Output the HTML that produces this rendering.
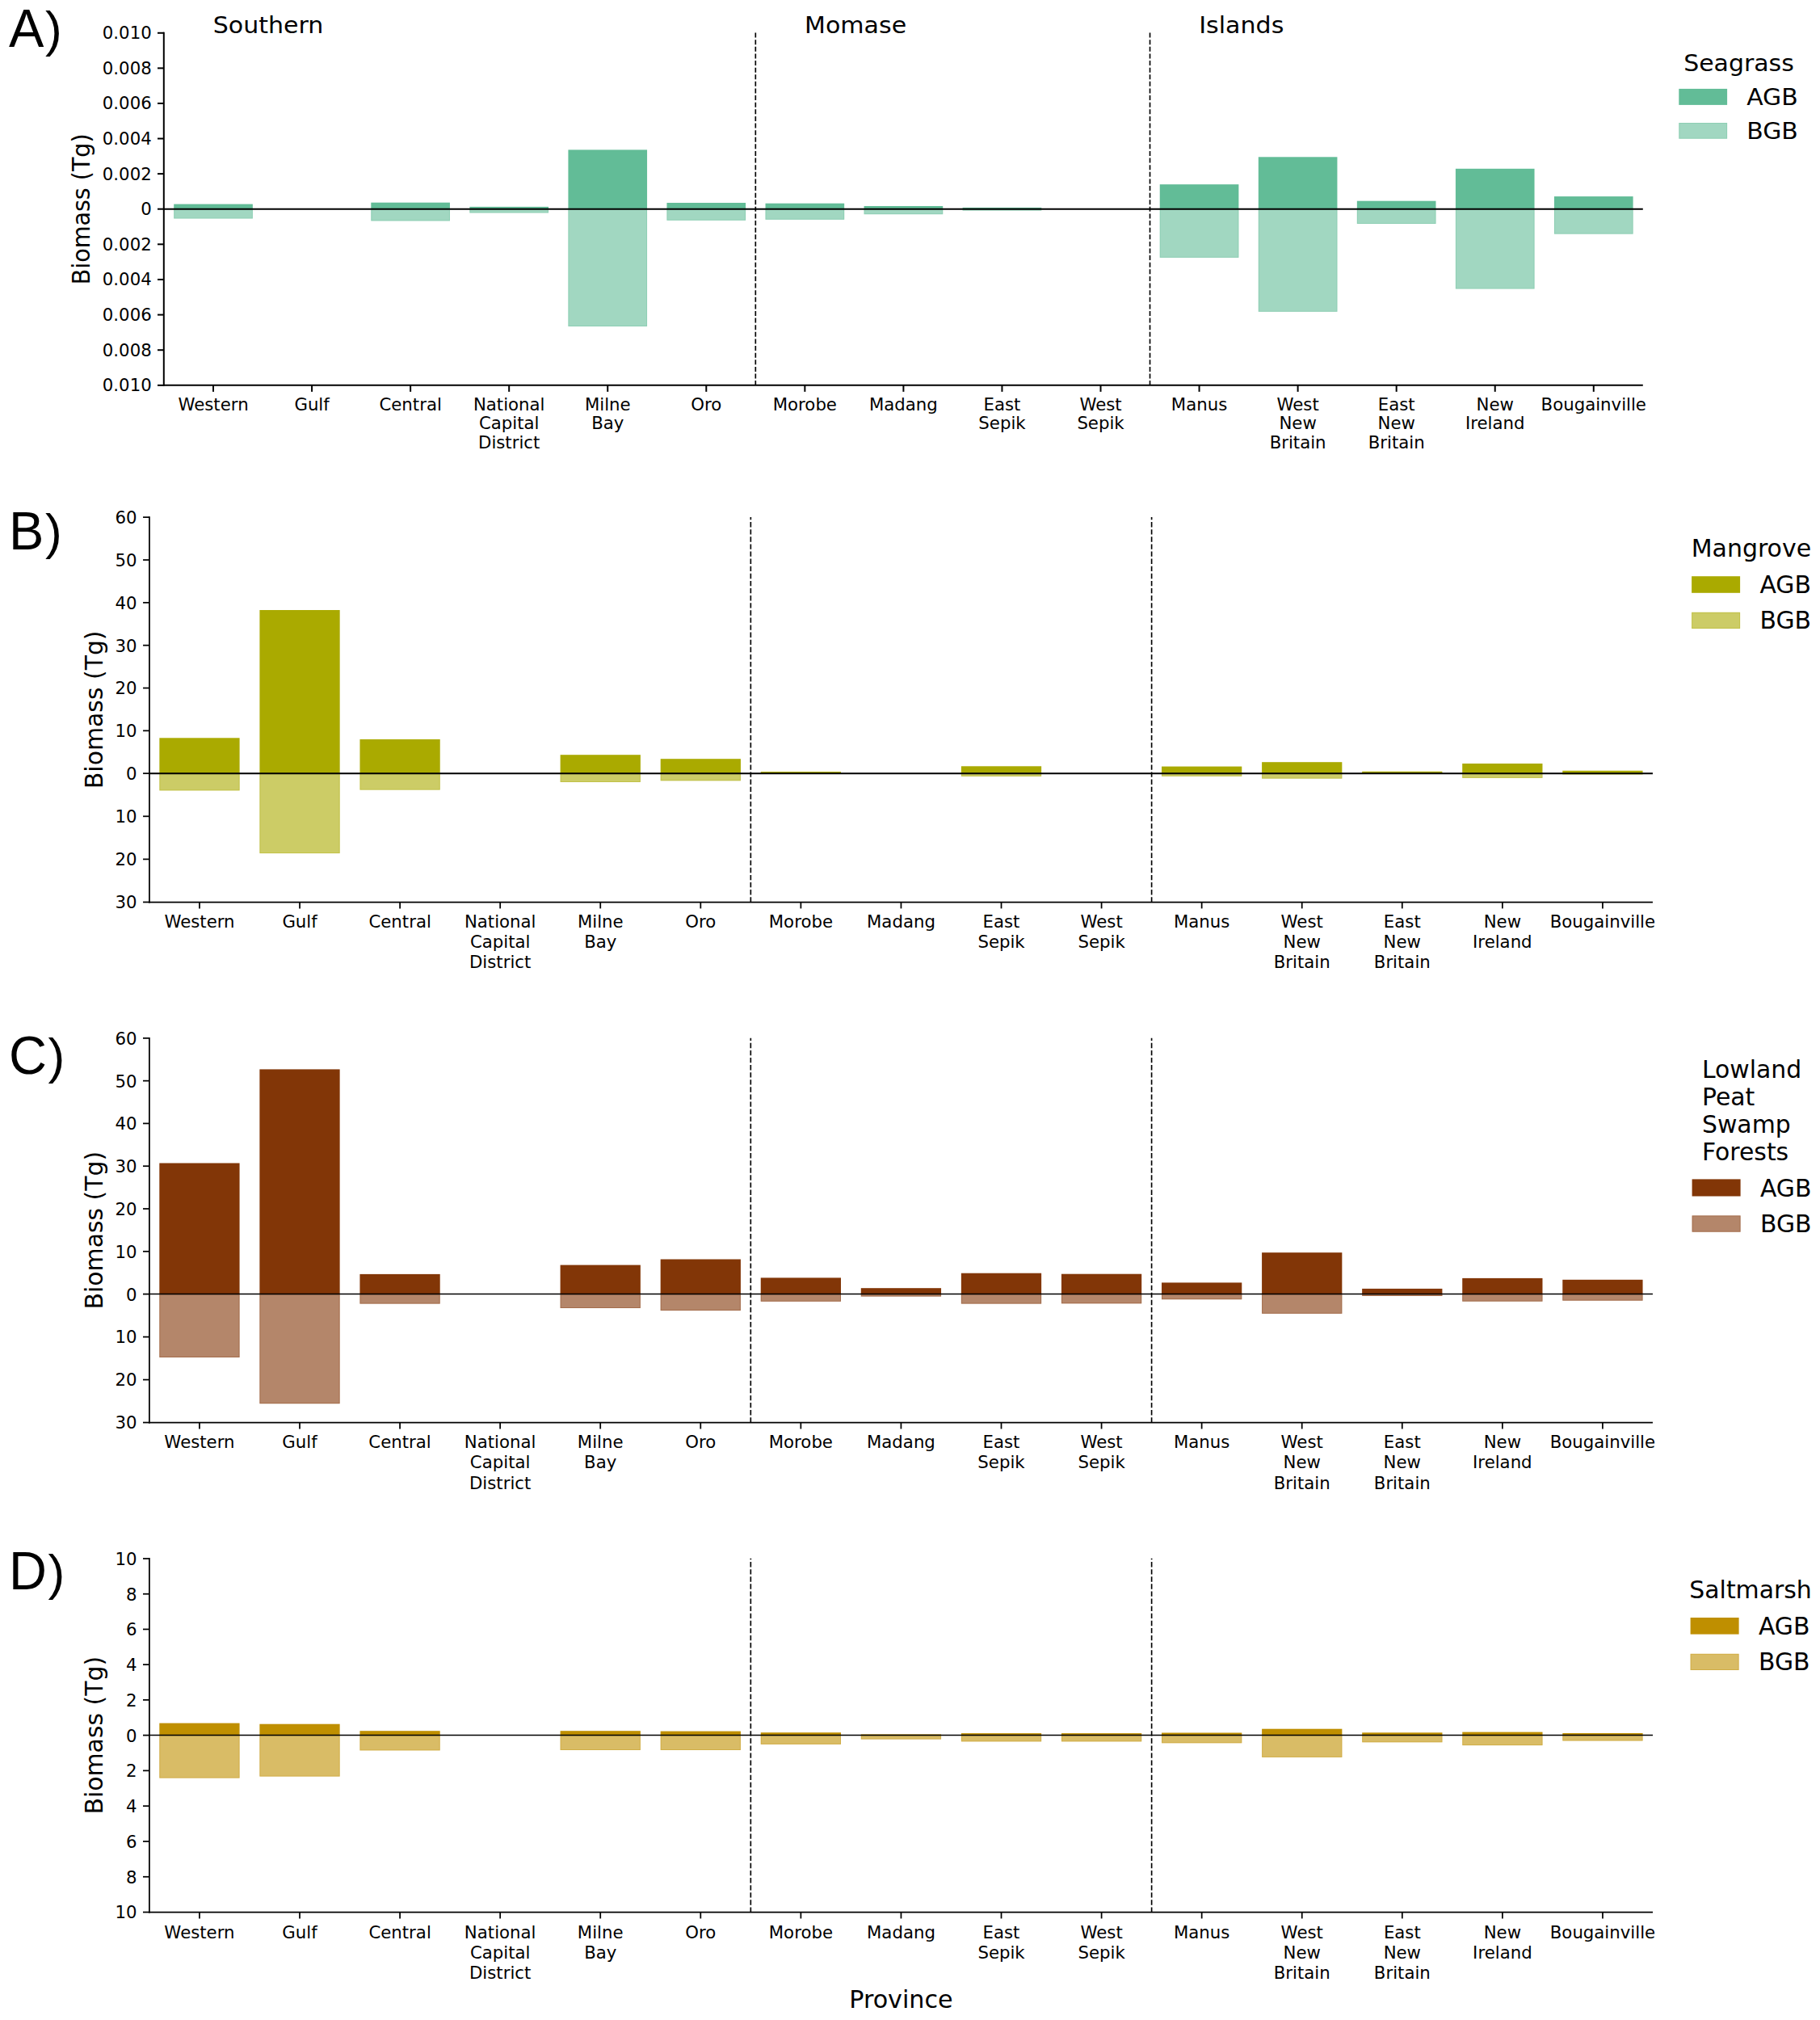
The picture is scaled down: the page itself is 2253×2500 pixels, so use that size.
<!DOCTYPE html>
<html lang="en"><head><meta charset="utf-8"><title>Biomass by province</title>
<style>
html,body{margin:0;padding:0;background:#fff}
body{width:2253px;height:2500px;overflow:hidden}
svg{display:block}
svg text{font-family:"DejaVu Sans","Liberation Sans",sans-serif;fill:#000}
svg text.pl{font-family:"Liberation Sans",Arial,Helvetica,sans-serif}
</style></head><body>
<svg width="2253" height="2500" viewBox="0 0 2253 2500">
<rect width="2253" height="2500" fill="#fff"/>
<rect x="215.21" y="258.70" width="97.64" height="11.80" fill="#a1d7c1"/>
<rect x="215.71" y="259.20" width="96.64" height="10.80" fill="none" stroke="#62bc97" stroke-opacity="0.3" stroke-width="1"/>
<rect x="215.21" y="252.60" width="97.64" height="6.10" fill="#62bc97"/>
<rect x="459.31" y="258.70" width="97.64" height="14.70" fill="#a1d7c1"/>
<rect x="459.81" y="259.20" width="96.64" height="13.70" fill="none" stroke="#62bc97" stroke-opacity="0.3" stroke-width="1"/>
<rect x="459.31" y="250.70" width="97.64" height="8.00" fill="#62bc97"/>
<rect x="581.37" y="258.70" width="97.64" height="4.80" fill="#a1d7c1"/>
<rect x="581.87" y="259.20" width="96.64" height="3.80" fill="none" stroke="#62bc97" stroke-opacity="0.3" stroke-width="1"/>
<rect x="581.37" y="255.90" width="97.64" height="2.80" fill="#62bc97"/>
<rect x="703.42" y="258.70" width="97.64" height="145.30" fill="#a1d7c1"/>
<rect x="703.92" y="259.20" width="96.64" height="144.30" fill="none" stroke="#62bc97" stroke-opacity="0.3" stroke-width="1"/>
<rect x="703.42" y="185.40" width="97.64" height="73.30" fill="#62bc97"/>
<rect x="825.47" y="258.70" width="97.64" height="14.10" fill="#a1d7c1"/>
<rect x="825.97" y="259.20" width="96.64" height="13.10" fill="none" stroke="#62bc97" stroke-opacity="0.3" stroke-width="1"/>
<rect x="825.47" y="251.00" width="97.64" height="7.70" fill="#62bc97"/>
<rect x="947.53" y="258.70" width="97.64" height="13.10" fill="#a1d7c1"/>
<rect x="948.03" y="259.20" width="96.64" height="12.10" fill="none" stroke="#62bc97" stroke-opacity="0.3" stroke-width="1"/>
<rect x="947.53" y="251.70" width="97.64" height="7.00" fill="#62bc97"/>
<rect x="1069.58" y="258.70" width="97.64" height="6.50" fill="#a1d7c1"/>
<rect x="1070.08" y="259.20" width="96.64" height="5.50" fill="none" stroke="#62bc97" stroke-opacity="0.3" stroke-width="1"/>
<rect x="1069.58" y="255.00" width="97.64" height="3.70" fill="#62bc97"/>
<rect x="1191.63" y="258.70" width="97.64" height="1.90" fill="#a1d7c1"/>
<rect x="1192.13" y="259.20" width="96.64" height="0.90" fill="none" stroke="#62bc97" stroke-opacity="0.3" stroke-width="1"/>
<rect x="1191.63" y="256.90" width="97.64" height="1.80" fill="#62bc97"/>
<rect x="1435.74" y="258.70" width="97.64" height="60.20" fill="#a1d7c1"/>
<rect x="1436.24" y="259.20" width="96.64" height="59.20" fill="none" stroke="#62bc97" stroke-opacity="0.3" stroke-width="1"/>
<rect x="1435.74" y="228.20" width="97.64" height="30.50" fill="#62bc97"/>
<rect x="1557.79" y="258.70" width="97.64" height="127.10" fill="#a1d7c1"/>
<rect x="1558.29" y="259.20" width="96.64" height="126.10" fill="none" stroke="#62bc97" stroke-opacity="0.3" stroke-width="1"/>
<rect x="1557.79" y="194.30" width="97.64" height="64.40" fill="#62bc97"/>
<rect x="1679.85" y="258.70" width="97.64" height="18.30" fill="#a1d7c1"/>
<rect x="1680.35" y="259.20" width="96.64" height="17.30" fill="none" stroke="#62bc97" stroke-opacity="0.3" stroke-width="1"/>
<rect x="1679.85" y="248.70" width="97.64" height="10.00" fill="#62bc97"/>
<rect x="1801.90" y="258.70" width="97.64" height="98.80" fill="#a1d7c1"/>
<rect x="1802.40" y="259.20" width="96.64" height="97.80" fill="none" stroke="#62bc97" stroke-opacity="0.3" stroke-width="1"/>
<rect x="1801.90" y="208.80" width="97.64" height="49.90" fill="#62bc97"/>
<rect x="1923.95" y="258.70" width="97.64" height="30.90" fill="#a1d7c1"/>
<rect x="1924.45" y="259.20" width="96.64" height="29.90" fill="none" stroke="#62bc97" stroke-opacity="0.3" stroke-width="1"/>
<rect x="1923.95" y="243.10" width="97.64" height="15.60" fill="#62bc97"/>
<line x1="935.32" y1="40.60" x2="935.32" y2="476.85" stroke="#000" stroke-width="1.65" stroke-dasharray="6.0 2.61" stroke-dashoffset="0"/>
<line x1="1423.53" y1="40.60" x2="1423.53" y2="476.85" stroke="#000" stroke-width="1.65" stroke-dasharray="6.0 2.61" stroke-dashoffset="0"/>
<line x1="203.00" y1="258.70" x2="2033.80" y2="258.70" stroke="#000" stroke-width="2.10"/>
<line x1="202.80" y1="39.80" x2="202.80" y2="477.85" stroke="#000" stroke-width="2.00"/>
<line x1="202.00" y1="476.85" x2="2033.80" y2="476.85" stroke="#000" stroke-width="2.00"/>
<line x1="195.00" y1="40.80" x2="203.00" y2="40.80" stroke="#000" stroke-width="2.00"/>
<text transform="translate(187.70,48.27) scale(0.9850,0.9450)" font-size="21.60" text-anchor="end">0.010</text>
<line x1="195.00" y1="84.38" x2="203.00" y2="84.38" stroke="#000" stroke-width="2.00"/>
<text transform="translate(187.70,91.85) scale(0.9850,0.9450)" font-size="21.60" text-anchor="end">0.008</text>
<line x1="195.00" y1="127.96" x2="203.00" y2="127.96" stroke="#000" stroke-width="2.00"/>
<text transform="translate(187.70,135.43) scale(0.9850,0.9450)" font-size="21.60" text-anchor="end">0.006</text>
<line x1="195.00" y1="171.54" x2="203.00" y2="171.54" stroke="#000" stroke-width="2.00"/>
<text transform="translate(187.70,179.01) scale(0.9850,0.9450)" font-size="21.60" text-anchor="end">0.004</text>
<line x1="195.00" y1="215.12" x2="203.00" y2="215.12" stroke="#000" stroke-width="2.00"/>
<text transform="translate(187.70,222.59) scale(0.9850,0.9450)" font-size="21.60" text-anchor="end">0.002</text>
<line x1="195.00" y1="258.70" x2="203.00" y2="258.70" stroke="#000" stroke-width="2.00"/>
<text transform="translate(187.70,266.17) scale(0.9850,0.9450)" font-size="21.60" text-anchor="end">0</text>
<line x1="195.00" y1="302.33" x2="203.00" y2="302.33" stroke="#000" stroke-width="2.00"/>
<text transform="translate(187.70,309.80) scale(0.9850,0.9450)" font-size="21.60" text-anchor="end">0.002</text>
<line x1="195.00" y1="345.96" x2="203.00" y2="345.96" stroke="#000" stroke-width="2.00"/>
<text transform="translate(187.70,353.43) scale(0.9850,0.9450)" font-size="21.60" text-anchor="end">0.004</text>
<line x1="195.00" y1="389.59" x2="203.00" y2="389.59" stroke="#000" stroke-width="2.00"/>
<text transform="translate(187.70,397.06) scale(0.9850,0.9450)" font-size="21.60" text-anchor="end">0.006</text>
<line x1="195.00" y1="433.22" x2="203.00" y2="433.22" stroke="#000" stroke-width="2.00"/>
<text transform="translate(187.70,440.69) scale(0.9850,0.9450)" font-size="21.60" text-anchor="end">0.008</text>
<line x1="195.00" y1="476.85" x2="203.00" y2="476.85" stroke="#000" stroke-width="2.00"/>
<text transform="translate(187.70,484.32) scale(0.9850,0.9450)" font-size="21.60" text-anchor="end">0.010</text>
<line x1="264.03" y1="476.85" x2="264.03" y2="484.85" stroke="#000" stroke-width="2.00"/>
<text transform="translate(264.03,507.70) scale(0.9850,0.9450)" font-size="21.60" text-anchor="middle">Western</text>
<line x1="386.08" y1="476.85" x2="386.08" y2="484.85" stroke="#000" stroke-width="2.00"/>
<text transform="translate(386.08,507.70) scale(0.9850,0.9450)" font-size="21.60" text-anchor="middle">Gulf</text>
<line x1="508.13" y1="476.85" x2="508.13" y2="484.85" stroke="#000" stroke-width="2.00"/>
<text transform="translate(508.13,507.70) scale(0.9850,0.9450)" font-size="21.60" text-anchor="middle">Central</text>
<line x1="630.19" y1="476.85" x2="630.19" y2="484.85" stroke="#000" stroke-width="2.00"/>
<text transform="translate(630.19,507.70) scale(0.9850,0.9450)" font-size="21.60" text-anchor="middle">National</text>
<text transform="translate(630.19,531.20) scale(0.9850,0.9450)" font-size="21.60" text-anchor="middle">Capital</text>
<text transform="translate(630.19,554.70) scale(0.9850,0.9450)" font-size="21.60" text-anchor="middle">District</text>
<line x1="752.24" y1="476.85" x2="752.24" y2="484.85" stroke="#000" stroke-width="2.00"/>
<text transform="translate(752.24,507.70) scale(0.9850,0.9450)" font-size="21.60" text-anchor="middle">Milne</text>
<text transform="translate(752.24,531.20) scale(0.9850,0.9450)" font-size="21.60" text-anchor="middle">Bay</text>
<line x1="874.29" y1="476.85" x2="874.29" y2="484.85" stroke="#000" stroke-width="2.00"/>
<text transform="translate(874.29,507.70) scale(0.9850,0.9450)" font-size="21.60" text-anchor="middle">Oro</text>
<line x1="996.35" y1="476.85" x2="996.35" y2="484.85" stroke="#000" stroke-width="2.00"/>
<text transform="translate(996.35,507.70) scale(0.9850,0.9450)" font-size="21.60" text-anchor="middle">Morobe</text>
<line x1="1118.40" y1="476.85" x2="1118.40" y2="484.85" stroke="#000" stroke-width="2.00"/>
<text transform="translate(1118.40,507.70) scale(0.9850,0.9450)" font-size="21.60" text-anchor="middle">Madang</text>
<line x1="1240.45" y1="476.85" x2="1240.45" y2="484.85" stroke="#000" stroke-width="2.00"/>
<text transform="translate(1240.45,507.70) scale(0.9850,0.9450)" font-size="21.60" text-anchor="middle">East</text>
<text transform="translate(1240.45,531.20) scale(0.9850,0.9450)" font-size="21.60" text-anchor="middle">Sepik</text>
<line x1="1362.51" y1="476.85" x2="1362.51" y2="484.85" stroke="#000" stroke-width="2.00"/>
<text transform="translate(1362.51,507.70) scale(0.9850,0.9450)" font-size="21.60" text-anchor="middle">West</text>
<text transform="translate(1362.51,531.20) scale(0.9850,0.9450)" font-size="21.60" text-anchor="middle">Sepik</text>
<line x1="1484.56" y1="476.85" x2="1484.56" y2="484.85" stroke="#000" stroke-width="2.00"/>
<text transform="translate(1484.56,507.70) scale(0.9850,0.9450)" font-size="21.60" text-anchor="middle">Manus</text>
<line x1="1606.61" y1="476.85" x2="1606.61" y2="484.85" stroke="#000" stroke-width="2.00"/>
<text transform="translate(1606.61,507.70) scale(0.9850,0.9450)" font-size="21.60" text-anchor="middle">West</text>
<text transform="translate(1606.61,531.20) scale(0.9850,0.9450)" font-size="21.60" text-anchor="middle">New</text>
<text transform="translate(1606.61,554.70) scale(0.9850,0.9450)" font-size="21.60" text-anchor="middle">Britain</text>
<line x1="1728.67" y1="476.85" x2="1728.67" y2="484.85" stroke="#000" stroke-width="2.00"/>
<text transform="translate(1728.67,507.70) scale(0.9850,0.9450)" font-size="21.60" text-anchor="middle">East</text>
<text transform="translate(1728.67,531.20) scale(0.9850,0.9450)" font-size="21.60" text-anchor="middle">New</text>
<text transform="translate(1728.67,554.70) scale(0.9850,0.9450)" font-size="21.60" text-anchor="middle">Britain</text>
<line x1="1850.72" y1="476.85" x2="1850.72" y2="484.85" stroke="#000" stroke-width="2.00"/>
<text transform="translate(1850.72,507.70) scale(0.9850,0.9450)" font-size="21.60" text-anchor="middle">New</text>
<text transform="translate(1850.72,531.20) scale(0.9850,0.9450)" font-size="21.60" text-anchor="middle">Ireland</text>
<line x1="1972.77" y1="476.85" x2="1972.77" y2="484.85" stroke="#000" stroke-width="2.00"/>
<text transform="translate(1972.77,507.70) scale(0.9850,0.9450)" font-size="21.60" text-anchor="middle">Bougainville</text>
<text transform="translate(111.10,258.82) scale(1.0000,0.9450) rotate(-90)" font-size="30.20" text-anchor="middle">Biomass (Tg)</text>
<text transform="translate(11.00,57.90) scale(1,1.02)" font-size="65.0" class="pl">A</text>
<text transform="translate(56.00,57.30) scale(0.96,0.95)" font-size="65.0" class="pl">)</text>
<text transform="translate(2084.20,87.90) scale(0.9910,0.9450)" font-size="30.20" text-anchor="start">Seagrass</text>
<rect x="2078.30" y="109.90" width="59.80" height="20.00" fill="#62bc97"/>
<text transform="translate(2162.20,129.90) scale(0.9880,0.9450)" font-size="30.20" text-anchor="start">AGB</text>
<rect x="2078.30" y="152.00" width="59.80" height="19.70" fill="#a1d7c1"/>
<rect x="2078.80" y="152.50" width="58.80" height="18.70" fill="none" stroke="#62bc97" stroke-opacity="0.3" stroke-width="1"/>
<text transform="translate(2162.20,172.40) scale(0.9880,0.9450)" font-size="30.20" text-anchor="start">BGB</text>
<rect x="197.36" y="957.20" width="99.25" height="21.20" fill="#cccc66"/>
<rect x="197.86" y="957.70" width="98.25" height="20.20" fill="none" stroke="#aaaa00" stroke-opacity="0.3" stroke-width="1"/>
<rect x="197.36" y="913.30" width="99.25" height="43.90" fill="#aaaa00"/>
<rect x="321.42" y="957.20" width="99.25" height="98.90" fill="#cccc66"/>
<rect x="321.92" y="957.70" width="98.25" height="97.90" fill="none" stroke="#aaaa00" stroke-opacity="0.3" stroke-width="1"/>
<rect x="321.42" y="755.00" width="99.25" height="202.20" fill="#aaaa00"/>
<rect x="445.49" y="957.20" width="99.25" height="20.40" fill="#cccc66"/>
<rect x="445.99" y="957.70" width="98.25" height="19.40" fill="none" stroke="#aaaa00" stroke-opacity="0.3" stroke-width="1"/>
<rect x="445.49" y="915.00" width="99.25" height="42.20" fill="#aaaa00"/>
<rect x="693.62" y="957.20" width="99.25" height="10.80" fill="#cccc66"/>
<rect x="694.12" y="957.70" width="98.25" height="9.80" fill="none" stroke="#aaaa00" stroke-opacity="0.3" stroke-width="1"/>
<rect x="693.62" y="934.20" width="99.25" height="23.00" fill="#aaaa00"/>
<rect x="817.69" y="957.20" width="99.25" height="9.10" fill="#cccc66"/>
<rect x="818.19" y="957.70" width="98.25" height="8.10" fill="none" stroke="#aaaa00" stroke-opacity="0.3" stroke-width="1"/>
<rect x="817.69" y="939.20" width="99.25" height="18.00" fill="#aaaa00"/>
<rect x="941.76" y="957.20" width="99.25" height="0.70" fill="#cccc66"/>
<rect x="941.76" y="955.10" width="99.25" height="2.10" fill="#aaaa00"/>
<rect x="1189.89" y="957.20" width="99.25" height="3.70" fill="#cccc66"/>
<rect x="1190.39" y="957.70" width="98.25" height="2.70" fill="none" stroke="#aaaa00" stroke-opacity="0.3" stroke-width="1"/>
<rect x="1189.89" y="948.30" width="99.25" height="8.90" fill="#aaaa00"/>
<rect x="1438.02" y="957.20" width="99.25" height="3.60" fill="#cccc66"/>
<rect x="1438.52" y="957.70" width="98.25" height="2.60" fill="none" stroke="#aaaa00" stroke-opacity="0.3" stroke-width="1"/>
<rect x="1438.02" y="948.60" width="99.25" height="8.60" fill="#aaaa00"/>
<rect x="1562.09" y="957.20" width="99.25" height="6.40" fill="#cccc66"/>
<rect x="1562.59" y="957.70" width="98.25" height="5.40" fill="none" stroke="#aaaa00" stroke-opacity="0.3" stroke-width="1"/>
<rect x="1562.09" y="943.20" width="99.25" height="14.00" fill="#aaaa00"/>
<rect x="1686.16" y="957.20" width="99.25" height="0.60" fill="#cccc66"/>
<rect x="1686.16" y="954.80" width="99.25" height="2.40" fill="#aaaa00"/>
<rect x="1810.22" y="957.20" width="99.25" height="5.70" fill="#cccc66"/>
<rect x="1810.72" y="957.70" width="98.25" height="4.70" fill="none" stroke="#aaaa00" stroke-opacity="0.3" stroke-width="1"/>
<rect x="1810.22" y="945.00" width="99.25" height="12.20" fill="#aaaa00"/>
<rect x="1934.29" y="957.20" width="99.25" height="1.30" fill="#cccc66"/>
<rect x="1934.79" y="957.70" width="98.25" height="0.30" fill="none" stroke="#aaaa00" stroke-opacity="0.3" stroke-width="1"/>
<rect x="1934.29" y="953.80" width="99.25" height="3.40" fill="#aaaa00"/>
<line x1="929.35" y1="639.90" x2="929.35" y2="1116.50" stroke="#000" stroke-width="1.65" stroke-dasharray="6.35 2.75" stroke-dashoffset="2.9"/>
<line x1="1425.62" y1="639.90" x2="1425.62" y2="1116.50" stroke="#000" stroke-width="1.65" stroke-dasharray="6.35 2.75" stroke-dashoffset="2.9"/>
<line x1="184.95" y1="957.20" x2="2045.95" y2="957.20" stroke="#000" stroke-width="2.10"/>
<line x1="184.95" y1="639.27" x2="184.95" y2="1117.38" stroke="#000" stroke-width="1.75"/>
<line x1="184.07" y1="1116.50" x2="2045.95" y2="1116.50" stroke="#000" stroke-width="1.75"/>
<line x1="177.05" y1="640.15" x2="184.95" y2="640.15" stroke="#000" stroke-width="1.75"/>
<text transform="translate(169.65,648.05) scale(0.9850,1.0000)" font-size="21.60" text-anchor="end">60</text>
<line x1="177.05" y1="692.99" x2="184.95" y2="692.99" stroke="#000" stroke-width="1.75"/>
<text transform="translate(169.65,700.89) scale(0.9850,1.0000)" font-size="21.60" text-anchor="end">50</text>
<line x1="177.05" y1="745.83" x2="184.95" y2="745.83" stroke="#000" stroke-width="1.75"/>
<text transform="translate(169.65,753.73) scale(0.9850,1.0000)" font-size="21.60" text-anchor="end">40</text>
<line x1="177.05" y1="798.67" x2="184.95" y2="798.67" stroke="#000" stroke-width="1.75"/>
<text transform="translate(169.65,806.57) scale(0.9850,1.0000)" font-size="21.60" text-anchor="end">30</text>
<line x1="177.05" y1="851.52" x2="184.95" y2="851.52" stroke="#000" stroke-width="1.75"/>
<text transform="translate(169.65,859.42) scale(0.9850,1.0000)" font-size="21.60" text-anchor="end">20</text>
<line x1="177.05" y1="904.36" x2="184.95" y2="904.36" stroke="#000" stroke-width="1.75"/>
<text transform="translate(169.65,912.26) scale(0.9850,1.0000)" font-size="21.60" text-anchor="end">10</text>
<line x1="177.05" y1="957.20" x2="184.95" y2="957.20" stroke="#000" stroke-width="1.75"/>
<text transform="translate(169.65,965.10) scale(0.9850,1.0000)" font-size="21.60" text-anchor="end">0</text>
<line x1="177.05" y1="1010.30" x2="184.95" y2="1010.30" stroke="#000" stroke-width="1.75"/>
<text transform="translate(169.65,1018.20) scale(0.9850,1.0000)" font-size="21.60" text-anchor="end">10</text>
<line x1="177.05" y1="1063.40" x2="184.95" y2="1063.40" stroke="#000" stroke-width="1.75"/>
<text transform="translate(169.65,1071.30) scale(0.9850,1.0000)" font-size="21.60" text-anchor="end">20</text>
<line x1="177.05" y1="1116.50" x2="184.95" y2="1116.50" stroke="#000" stroke-width="1.75"/>
<text transform="translate(169.65,1124.40) scale(0.9850,1.0000)" font-size="21.60" text-anchor="end">30</text>
<line x1="246.98" y1="1116.50" x2="246.98" y2="1124.40" stroke="#000" stroke-width="1.75"/>
<text transform="translate(246.98,1147.80) scale(0.9850,1.0000)" font-size="21.60" text-anchor="middle">Western</text>
<line x1="371.05" y1="1116.50" x2="371.05" y2="1124.40" stroke="#000" stroke-width="1.75"/>
<text transform="translate(371.05,1147.80) scale(0.9850,1.0000)" font-size="21.60" text-anchor="middle">Gulf</text>
<line x1="495.12" y1="1116.50" x2="495.12" y2="1124.40" stroke="#000" stroke-width="1.75"/>
<text transform="translate(495.12,1147.80) scale(0.9850,1.0000)" font-size="21.60" text-anchor="middle">Central</text>
<line x1="619.18" y1="1116.50" x2="619.18" y2="1124.40" stroke="#000" stroke-width="1.75"/>
<text transform="translate(619.18,1147.80) scale(0.9850,1.0000)" font-size="21.60" text-anchor="middle">National</text>
<text transform="translate(619.18,1173.10) scale(0.9850,1.0000)" font-size="21.60" text-anchor="middle">Capital</text>
<text transform="translate(619.18,1198.40) scale(0.9850,1.0000)" font-size="21.60" text-anchor="middle">District</text>
<line x1="743.25" y1="1116.50" x2="743.25" y2="1124.40" stroke="#000" stroke-width="1.75"/>
<text transform="translate(743.25,1147.80) scale(0.9850,1.0000)" font-size="21.60" text-anchor="middle">Milne</text>
<text transform="translate(743.25,1173.10) scale(0.9850,1.0000)" font-size="21.60" text-anchor="middle">Bay</text>
<line x1="867.32" y1="1116.50" x2="867.32" y2="1124.40" stroke="#000" stroke-width="1.75"/>
<text transform="translate(867.32,1147.80) scale(0.9850,1.0000)" font-size="21.60" text-anchor="middle">Oro</text>
<line x1="991.38" y1="1116.50" x2="991.38" y2="1124.40" stroke="#000" stroke-width="1.75"/>
<text transform="translate(991.38,1147.80) scale(0.9850,1.0000)" font-size="21.60" text-anchor="middle">Morobe</text>
<line x1="1115.45" y1="1116.50" x2="1115.45" y2="1124.40" stroke="#000" stroke-width="1.75"/>
<text transform="translate(1115.45,1147.80) scale(0.9850,1.0000)" font-size="21.60" text-anchor="middle">Madang</text>
<line x1="1239.52" y1="1116.50" x2="1239.52" y2="1124.40" stroke="#000" stroke-width="1.75"/>
<text transform="translate(1239.52,1147.80) scale(0.9850,1.0000)" font-size="21.60" text-anchor="middle">East</text>
<text transform="translate(1239.52,1173.10) scale(0.9850,1.0000)" font-size="21.60" text-anchor="middle">Sepik</text>
<line x1="1363.58" y1="1116.50" x2="1363.58" y2="1124.40" stroke="#000" stroke-width="1.75"/>
<text transform="translate(1363.58,1147.80) scale(0.9850,1.0000)" font-size="21.60" text-anchor="middle">West</text>
<text transform="translate(1363.58,1173.10) scale(0.9850,1.0000)" font-size="21.60" text-anchor="middle">Sepik</text>
<line x1="1487.65" y1="1116.50" x2="1487.65" y2="1124.40" stroke="#000" stroke-width="1.75"/>
<text transform="translate(1487.65,1147.80) scale(0.9850,1.0000)" font-size="21.60" text-anchor="middle">Manus</text>
<line x1="1611.72" y1="1116.50" x2="1611.72" y2="1124.40" stroke="#000" stroke-width="1.75"/>
<text transform="translate(1611.72,1147.80) scale(0.9850,1.0000)" font-size="21.60" text-anchor="middle">West</text>
<text transform="translate(1611.72,1173.10) scale(0.9850,1.0000)" font-size="21.60" text-anchor="middle">New</text>
<text transform="translate(1611.72,1198.40) scale(0.9850,1.0000)" font-size="21.60" text-anchor="middle">Britain</text>
<line x1="1735.78" y1="1116.50" x2="1735.78" y2="1124.40" stroke="#000" stroke-width="1.75"/>
<text transform="translate(1735.78,1147.80) scale(0.9850,1.0000)" font-size="21.60" text-anchor="middle">East</text>
<text transform="translate(1735.78,1173.10) scale(0.9850,1.0000)" font-size="21.60" text-anchor="middle">New</text>
<text transform="translate(1735.78,1198.40) scale(0.9850,1.0000)" font-size="21.60" text-anchor="middle">Britain</text>
<line x1="1859.85" y1="1116.50" x2="1859.85" y2="1124.40" stroke="#000" stroke-width="1.75"/>
<text transform="translate(1859.85,1147.80) scale(0.9850,1.0000)" font-size="21.60" text-anchor="middle">New</text>
<text transform="translate(1859.85,1173.10) scale(0.9850,1.0000)" font-size="21.60" text-anchor="middle">Ireland</text>
<line x1="1983.92" y1="1116.50" x2="1983.92" y2="1124.40" stroke="#000" stroke-width="1.75"/>
<text transform="translate(1983.92,1147.80) scale(0.9850,1.0000)" font-size="21.60" text-anchor="middle">Bougainville</text>
<text transform="translate(127.10,878.33) scale(1.0000,0.9900) rotate(-90)" font-size="30.20" text-anchor="middle">Biomass (Tg)</text>
<text transform="translate(11.00,679.90) scale(1,1.02)" font-size="65.0" class="pl">B</text>
<text transform="translate(56.00,679.30) scale(0.96,0.95)" font-size="65.0" class="pl">)</text>
<text transform="translate(2093.70,689.30) scale(0.9930,1.0000)" font-size="30.20" text-anchor="start">Mangrove</text>
<rect x="2094.10" y="713.20" width="60.00" height="20.60" fill="#aaaa00"/>
<text transform="translate(2178.50,733.80) scale(0.9880,1.0000)" font-size="30.20" text-anchor="start">AGB</text>
<rect x="2094.10" y="757.80" width="60.00" height="20.20" fill="#cccc66"/>
<rect x="2094.60" y="758.30" width="59.00" height="19.20" fill="none" stroke="#aaaa00" stroke-opacity="0.3" stroke-width="1"/>
<text transform="translate(2178.50,778.00) scale(0.9880,1.0000)" font-size="30.20" text-anchor="start">BGB</text>
<rect x="197.31" y="1601.60" width="99.26" height="78.40" fill="#b4866a"/>
<rect x="197.81" y="1602.10" width="98.26" height="77.40" fill="none" stroke="#823607" stroke-opacity="0.3" stroke-width="1"/>
<rect x="197.31" y="1439.50" width="99.26" height="162.10" fill="#823607"/>
<rect x="321.38" y="1601.60" width="99.26" height="135.60" fill="#b4866a"/>
<rect x="321.88" y="1602.10" width="98.26" height="134.60" fill="none" stroke="#823607" stroke-opacity="0.3" stroke-width="1"/>
<rect x="321.38" y="1323.40" width="99.26" height="278.20" fill="#823607"/>
<rect x="445.45" y="1601.60" width="99.26" height="12.00" fill="#b4866a"/>
<rect x="445.95" y="1602.10" width="98.26" height="11.00" fill="none" stroke="#823607" stroke-opacity="0.3" stroke-width="1"/>
<rect x="445.45" y="1576.90" width="99.26" height="24.70" fill="#823607"/>
<rect x="693.59" y="1601.60" width="99.26" height="17.40" fill="#b4866a"/>
<rect x="694.09" y="1602.10" width="98.26" height="16.40" fill="none" stroke="#823607" stroke-opacity="0.3" stroke-width="1"/>
<rect x="693.59" y="1565.60" width="99.26" height="36.00" fill="#823607"/>
<rect x="817.66" y="1601.60" width="99.26" height="20.40" fill="#b4866a"/>
<rect x="818.16" y="1602.10" width="98.26" height="19.40" fill="none" stroke="#823607" stroke-opacity="0.3" stroke-width="1"/>
<rect x="817.66" y="1558.50" width="99.26" height="43.10" fill="#823607"/>
<rect x="941.73" y="1601.60" width="99.26" height="9.20" fill="#b4866a"/>
<rect x="942.23" y="1602.10" width="98.26" height="8.20" fill="none" stroke="#823607" stroke-opacity="0.3" stroke-width="1"/>
<rect x="941.73" y="1581.40" width="99.26" height="20.20" fill="#823607"/>
<rect x="1065.80" y="1601.60" width="99.26" height="3.00" fill="#b4866a"/>
<rect x="1066.30" y="1602.10" width="98.26" height="2.00" fill="none" stroke="#823607" stroke-opacity="0.3" stroke-width="1"/>
<rect x="1065.80" y="1594.20" width="99.26" height="7.40" fill="#823607"/>
<rect x="1189.87" y="1601.60" width="99.26" height="12.00" fill="#b4866a"/>
<rect x="1190.37" y="1602.10" width="98.26" height="11.00" fill="none" stroke="#823607" stroke-opacity="0.3" stroke-width="1"/>
<rect x="1189.87" y="1575.70" width="99.26" height="25.90" fill="#823607"/>
<rect x="1313.94" y="1601.60" width="99.26" height="11.70" fill="#b4866a"/>
<rect x="1314.44" y="1602.10" width="98.26" height="10.70" fill="none" stroke="#823607" stroke-opacity="0.3" stroke-width="1"/>
<rect x="1313.94" y="1576.70" width="99.26" height="24.90" fill="#823607"/>
<rect x="1438.01" y="1601.60" width="99.26" height="6.60" fill="#b4866a"/>
<rect x="1438.51" y="1602.10" width="98.26" height="5.60" fill="none" stroke="#823607" stroke-opacity="0.3" stroke-width="1"/>
<rect x="1438.01" y="1587.40" width="99.26" height="14.20" fill="#823607"/>
<rect x="1562.08" y="1601.60" width="99.26" height="24.20" fill="#b4866a"/>
<rect x="1562.58" y="1602.10" width="98.26" height="23.20" fill="none" stroke="#823607" stroke-opacity="0.3" stroke-width="1"/>
<rect x="1562.08" y="1550.20" width="99.26" height="51.40" fill="#823607"/>
<rect x="1686.15" y="1601.60" width="99.26" height="2.40" fill="#b4866a"/>
<rect x="1686.65" y="1602.10" width="98.26" height="1.40" fill="none" stroke="#823607" stroke-opacity="0.3" stroke-width="1"/>
<rect x="1686.15" y="1594.90" width="99.26" height="6.70" fill="#823607"/>
<rect x="1810.22" y="1601.60" width="99.26" height="9.10" fill="#b4866a"/>
<rect x="1810.72" y="1602.10" width="98.26" height="8.10" fill="none" stroke="#823607" stroke-opacity="0.3" stroke-width="1"/>
<rect x="1810.22" y="1581.90" width="99.26" height="19.70" fill="#823607"/>
<rect x="1934.29" y="1601.60" width="99.26" height="8.10" fill="#b4866a"/>
<rect x="1934.79" y="1602.10" width="98.26" height="7.10" fill="none" stroke="#823607" stroke-opacity="0.3" stroke-width="1"/>
<rect x="1934.29" y="1583.80" width="99.26" height="17.80" fill="#823607"/>
<line x1="929.32" y1="1284.65" x2="929.32" y2="1760.55" stroke="#000" stroke-width="1.65" stroke-dasharray="6.35 2.735" stroke-dashoffset="2.9"/>
<line x1="1425.60" y1="1284.65" x2="1425.60" y2="1760.55" stroke="#000" stroke-width="1.65" stroke-dasharray="6.35 2.735" stroke-dashoffset="2.9"/>
<line x1="184.90" y1="1601.60" x2="2045.95" y2="1601.60" stroke="#000" stroke-width="1.50"/>
<line x1="184.90" y1="1283.97" x2="184.90" y2="1761.42" stroke="#000" stroke-width="1.75"/>
<line x1="184.03" y1="1760.55" x2="2045.95" y2="1760.55" stroke="#000" stroke-width="1.75"/>
<line x1="177.00" y1="1284.85" x2="184.90" y2="1284.85" stroke="#000" stroke-width="1.75"/>
<text transform="translate(169.60,1292.75) scale(0.9850,1.0000)" font-size="21.60" text-anchor="end">60</text>
<line x1="177.00" y1="1337.64" x2="184.90" y2="1337.64" stroke="#000" stroke-width="1.75"/>
<text transform="translate(169.60,1345.54) scale(0.9850,1.0000)" font-size="21.60" text-anchor="end">50</text>
<line x1="177.00" y1="1390.43" x2="184.90" y2="1390.43" stroke="#000" stroke-width="1.75"/>
<text transform="translate(169.60,1398.33) scale(0.9850,1.0000)" font-size="21.60" text-anchor="end">40</text>
<line x1="177.00" y1="1443.22" x2="184.90" y2="1443.22" stroke="#000" stroke-width="1.75"/>
<text transform="translate(169.60,1451.12) scale(0.9850,1.0000)" font-size="21.60" text-anchor="end">30</text>
<line x1="177.00" y1="1496.02" x2="184.90" y2="1496.02" stroke="#000" stroke-width="1.75"/>
<text transform="translate(169.60,1503.92) scale(0.9850,1.0000)" font-size="21.60" text-anchor="end">20</text>
<line x1="177.00" y1="1548.81" x2="184.90" y2="1548.81" stroke="#000" stroke-width="1.75"/>
<text transform="translate(169.60,1556.71) scale(0.9850,1.0000)" font-size="21.60" text-anchor="end">10</text>
<line x1="177.00" y1="1601.60" x2="184.90" y2="1601.60" stroke="#000" stroke-width="1.75"/>
<text transform="translate(169.60,1609.50) scale(0.9850,1.0000)" font-size="21.60" text-anchor="end">0</text>
<line x1="177.00" y1="1654.58" x2="184.90" y2="1654.58" stroke="#000" stroke-width="1.75"/>
<text transform="translate(169.60,1662.48) scale(0.9850,1.0000)" font-size="21.60" text-anchor="end">10</text>
<line x1="177.00" y1="1707.57" x2="184.90" y2="1707.57" stroke="#000" stroke-width="1.75"/>
<text transform="translate(169.60,1715.47) scale(0.9850,1.0000)" font-size="21.60" text-anchor="end">20</text>
<line x1="177.00" y1="1760.55" x2="184.90" y2="1760.55" stroke="#000" stroke-width="1.75"/>
<text transform="translate(169.60,1768.45) scale(0.9850,1.0000)" font-size="21.60" text-anchor="end">30</text>
<line x1="246.94" y1="1760.55" x2="246.94" y2="1768.45" stroke="#000" stroke-width="1.75"/>
<text transform="translate(246.94,1791.80) scale(0.9850,1.0000)" font-size="21.60" text-anchor="middle">Western</text>
<line x1="371.00" y1="1760.55" x2="371.00" y2="1768.45" stroke="#000" stroke-width="1.75"/>
<text transform="translate(371.00,1791.80) scale(0.9850,1.0000)" font-size="21.60" text-anchor="middle">Gulf</text>
<line x1="495.07" y1="1760.55" x2="495.07" y2="1768.45" stroke="#000" stroke-width="1.75"/>
<text transform="translate(495.07,1791.80) scale(0.9850,1.0000)" font-size="21.60" text-anchor="middle">Central</text>
<line x1="619.14" y1="1760.55" x2="619.14" y2="1768.45" stroke="#000" stroke-width="1.75"/>
<text transform="translate(619.14,1791.80) scale(0.9850,1.0000)" font-size="21.60" text-anchor="middle">National</text>
<text transform="translate(619.14,1817.15) scale(0.9850,1.0000)" font-size="21.60" text-anchor="middle">Capital</text>
<text transform="translate(619.14,1842.50) scale(0.9850,1.0000)" font-size="21.60" text-anchor="middle">District</text>
<line x1="743.21" y1="1760.55" x2="743.21" y2="1768.45" stroke="#000" stroke-width="1.75"/>
<text transform="translate(743.21,1791.80) scale(0.9850,1.0000)" font-size="21.60" text-anchor="middle">Milne</text>
<text transform="translate(743.21,1817.15) scale(0.9850,1.0000)" font-size="21.60" text-anchor="middle">Bay</text>
<line x1="867.28" y1="1760.55" x2="867.28" y2="1768.45" stroke="#000" stroke-width="1.75"/>
<text transform="translate(867.28,1791.80) scale(0.9850,1.0000)" font-size="21.60" text-anchor="middle">Oro</text>
<line x1="991.35" y1="1760.55" x2="991.35" y2="1768.45" stroke="#000" stroke-width="1.75"/>
<text transform="translate(991.35,1791.80) scale(0.9850,1.0000)" font-size="21.60" text-anchor="middle">Morobe</text>
<line x1="1115.42" y1="1760.55" x2="1115.42" y2="1768.45" stroke="#000" stroke-width="1.75"/>
<text transform="translate(1115.42,1791.80) scale(0.9850,1.0000)" font-size="21.60" text-anchor="middle">Madang</text>
<line x1="1239.50" y1="1760.55" x2="1239.50" y2="1768.45" stroke="#000" stroke-width="1.75"/>
<text transform="translate(1239.50,1791.80) scale(0.9850,1.0000)" font-size="21.60" text-anchor="middle">East</text>
<text transform="translate(1239.50,1817.15) scale(0.9850,1.0000)" font-size="21.60" text-anchor="middle">Sepik</text>
<line x1="1363.57" y1="1760.55" x2="1363.57" y2="1768.45" stroke="#000" stroke-width="1.75"/>
<text transform="translate(1363.57,1791.80) scale(0.9850,1.0000)" font-size="21.60" text-anchor="middle">West</text>
<text transform="translate(1363.57,1817.15) scale(0.9850,1.0000)" font-size="21.60" text-anchor="middle">Sepik</text>
<line x1="1487.63" y1="1760.55" x2="1487.63" y2="1768.45" stroke="#000" stroke-width="1.75"/>
<text transform="translate(1487.63,1791.80) scale(0.9850,1.0000)" font-size="21.60" text-anchor="middle">Manus</text>
<line x1="1611.70" y1="1760.55" x2="1611.70" y2="1768.45" stroke="#000" stroke-width="1.75"/>
<text transform="translate(1611.70,1791.80) scale(0.9850,1.0000)" font-size="21.60" text-anchor="middle">West</text>
<text transform="translate(1611.70,1817.15) scale(0.9850,1.0000)" font-size="21.60" text-anchor="middle">New</text>
<text transform="translate(1611.70,1842.50) scale(0.9850,1.0000)" font-size="21.60" text-anchor="middle">Britain</text>
<line x1="1735.78" y1="1760.55" x2="1735.78" y2="1768.45" stroke="#000" stroke-width="1.75"/>
<text transform="translate(1735.78,1791.80) scale(0.9850,1.0000)" font-size="21.60" text-anchor="middle">East</text>
<text transform="translate(1735.78,1817.15) scale(0.9850,1.0000)" font-size="21.60" text-anchor="middle">New</text>
<text transform="translate(1735.78,1842.50) scale(0.9850,1.0000)" font-size="21.60" text-anchor="middle">Britain</text>
<line x1="1859.85" y1="1760.55" x2="1859.85" y2="1768.45" stroke="#000" stroke-width="1.75"/>
<text transform="translate(1859.85,1791.80) scale(0.9850,1.0000)" font-size="21.60" text-anchor="middle">New</text>
<text transform="translate(1859.85,1817.15) scale(0.9850,1.0000)" font-size="21.60" text-anchor="middle">Ireland</text>
<line x1="1983.91" y1="1760.55" x2="1983.91" y2="1768.45" stroke="#000" stroke-width="1.75"/>
<text transform="translate(1983.91,1791.80) scale(0.9850,1.0000)" font-size="21.60" text-anchor="middle">Bougainville</text>
<text transform="translate(127.10,1522.70) scale(1.0000,0.9900) rotate(-90)" font-size="30.20" text-anchor="middle">Biomass (Tg)</text>
<text transform="translate(11.00,1328.90) scale(1,1.02)" font-size="65.0" class="pl">C</text>
<text transform="translate(59.50,1328.30) scale(0.96,0.95)" font-size="65.0" class="pl">)</text>
<text transform="translate(2107.00,1333.90) scale(0.9890,1.0000)" font-size="30.20" text-anchor="start">Lowland</text>
<text transform="translate(2107.00,1367.80) scale(0.9890,1.0000)" font-size="30.20" text-anchor="start">Peat</text>
<text transform="translate(2107.00,1401.70) scale(0.9890,1.0000)" font-size="30.20" text-anchor="start">Swamp</text>
<text transform="translate(2107.00,1435.60) scale(0.9890,1.0000)" font-size="30.20" text-anchor="start">Forests</text>
<rect x="2094.60" y="1459.40" width="60.00" height="21.10" fill="#823607"/>
<text transform="translate(2179.00,1480.50) scale(0.9880,1.0000)" font-size="30.20" text-anchor="start">AGB</text>
<rect x="2094.60" y="1504.40" width="60.00" height="20.30" fill="#b4866a"/>
<rect x="2095.10" y="1504.90" width="59.00" height="19.30" fill="none" stroke="#823607" stroke-opacity="0.3" stroke-width="1"/>
<text transform="translate(2179.00,1524.70) scale(0.9880,1.0000)" font-size="30.20" text-anchor="start">BGB</text>
<rect x="197.31" y="2147.60" width="99.26" height="53.00" fill="#d9bc66"/>
<rect x="197.81" y="2148.10" width="98.26" height="52.00" fill="none" stroke="#bf8f00" stroke-opacity="0.3" stroke-width="1"/>
<rect x="197.31" y="2132.60" width="99.26" height="15.00" fill="#bf8f00"/>
<rect x="321.38" y="2147.60" width="99.26" height="51.00" fill="#d9bc66"/>
<rect x="321.88" y="2148.10" width="98.26" height="50.00" fill="none" stroke="#bf8f00" stroke-opacity="0.3" stroke-width="1"/>
<rect x="321.38" y="2133.70" width="99.26" height="13.90" fill="#bf8f00"/>
<rect x="445.45" y="2147.60" width="99.26" height="18.80" fill="#d9bc66"/>
<rect x="445.95" y="2148.10" width="98.26" height="17.80" fill="none" stroke="#bf8f00" stroke-opacity="0.3" stroke-width="1"/>
<rect x="445.45" y="2142.20" width="99.26" height="5.40" fill="#bf8f00"/>
<rect x="693.60" y="2147.60" width="99.26" height="18.40" fill="#d9bc66"/>
<rect x="694.10" y="2148.10" width="98.26" height="17.40" fill="none" stroke="#bf8f00" stroke-opacity="0.3" stroke-width="1"/>
<rect x="693.60" y="2142.20" width="99.26" height="5.40" fill="#bf8f00"/>
<rect x="817.67" y="2147.60" width="99.26" height="18.40" fill="#d9bc66"/>
<rect x="818.17" y="2148.10" width="98.26" height="17.40" fill="none" stroke="#bf8f00" stroke-opacity="0.3" stroke-width="1"/>
<rect x="817.67" y="2142.60" width="99.26" height="5.00" fill="#bf8f00"/>
<rect x="941.75" y="2147.60" width="99.26" height="11.30" fill="#d9bc66"/>
<rect x="942.25" y="2148.10" width="98.26" height="10.30" fill="none" stroke="#bf8f00" stroke-opacity="0.3" stroke-width="1"/>
<rect x="941.75" y="2144.20" width="99.26" height="3.40" fill="#bf8f00"/>
<rect x="1065.82" y="2147.60" width="99.26" height="5.00" fill="#d9bc66"/>
<rect x="1066.32" y="2148.10" width="98.26" height="4.00" fill="none" stroke="#bf8f00" stroke-opacity="0.3" stroke-width="1"/>
<rect x="1065.82" y="2146.40" width="99.26" height="1.20" fill="#bf8f00"/>
<rect x="1189.89" y="2147.60" width="99.26" height="7.80" fill="#d9bc66"/>
<rect x="1190.39" y="2148.10" width="98.26" height="6.80" fill="none" stroke="#bf8f00" stroke-opacity="0.3" stroke-width="1"/>
<rect x="1189.89" y="2145.10" width="99.26" height="2.50" fill="#bf8f00"/>
<rect x="1313.97" y="2147.60" width="99.26" height="7.80" fill="#d9bc66"/>
<rect x="1314.47" y="2148.10" width="98.26" height="6.80" fill="none" stroke="#bf8f00" stroke-opacity="0.3" stroke-width="1"/>
<rect x="1313.97" y="2145.10" width="99.26" height="2.50" fill="#bf8f00"/>
<rect x="1438.04" y="2147.60" width="99.26" height="9.70" fill="#d9bc66"/>
<rect x="1438.54" y="2148.10" width="98.26" height="8.70" fill="none" stroke="#bf8f00" stroke-opacity="0.3" stroke-width="1"/>
<rect x="1438.04" y="2144.50" width="99.26" height="3.10" fill="#bf8f00"/>
<rect x="1562.11" y="2147.60" width="99.26" height="27.30" fill="#d9bc66"/>
<rect x="1562.61" y="2148.10" width="98.26" height="26.30" fill="none" stroke="#bf8f00" stroke-opacity="0.3" stroke-width="1"/>
<rect x="1562.11" y="2139.70" width="99.26" height="7.90" fill="#bf8f00"/>
<rect x="1686.19" y="2147.60" width="99.26" height="8.70" fill="#d9bc66"/>
<rect x="1686.69" y="2148.10" width="98.26" height="7.70" fill="none" stroke="#bf8f00" stroke-opacity="0.3" stroke-width="1"/>
<rect x="1686.19" y="2144.30" width="99.26" height="3.30" fill="#bf8f00"/>
<rect x="1810.26" y="2147.60" width="99.26" height="12.50" fill="#d9bc66"/>
<rect x="1810.76" y="2148.10" width="98.26" height="11.50" fill="none" stroke="#bf8f00" stroke-opacity="0.3" stroke-width="1"/>
<rect x="1810.26" y="2143.60" width="99.26" height="4.00" fill="#bf8f00"/>
<rect x="1934.33" y="2147.60" width="99.26" height="6.90" fill="#d9bc66"/>
<rect x="1934.83" y="2148.10" width="98.26" height="5.90" fill="none" stroke="#bf8f00" stroke-opacity="0.3" stroke-width="1"/>
<rect x="1934.33" y="2145.00" width="99.26" height="2.60" fill="#bf8f00"/>
<line x1="929.34" y1="1928.70" x2="929.34" y2="2366.55" stroke="#000" stroke-width="1.65" stroke-dasharray="6.35 2.742" stroke-dashoffset="4.7"/>
<line x1="1425.63" y1="1928.70" x2="1425.63" y2="2366.55" stroke="#000" stroke-width="1.65" stroke-dasharray="6.35 2.742" stroke-dashoffset="4.7"/>
<line x1="184.90" y1="2147.60" x2="2046.00" y2="2147.60" stroke="#000" stroke-width="1.50"/>
<line x1="184.90" y1="1928.12" x2="184.90" y2="2367.43" stroke="#000" stroke-width="1.75"/>
<line x1="184.03" y1="2366.55" x2="2046.00" y2="2366.55" stroke="#000" stroke-width="1.75"/>
<line x1="177.00" y1="1929.00" x2="184.90" y2="1929.00" stroke="#000" stroke-width="1.75"/>
<text transform="translate(169.60,1936.90) scale(0.9850,1.0000)" font-size="21.60" text-anchor="end">10</text>
<line x1="177.00" y1="1972.72" x2="184.90" y2="1972.72" stroke="#000" stroke-width="1.75"/>
<text transform="translate(169.60,1980.62) scale(0.9850,1.0000)" font-size="21.60" text-anchor="end">8</text>
<line x1="177.00" y1="2016.44" x2="184.90" y2="2016.44" stroke="#000" stroke-width="1.75"/>
<text transform="translate(169.60,2024.34) scale(0.9850,1.0000)" font-size="21.60" text-anchor="end">6</text>
<line x1="177.00" y1="2060.16" x2="184.90" y2="2060.16" stroke="#000" stroke-width="1.75"/>
<text transform="translate(169.60,2068.06) scale(0.9850,1.0000)" font-size="21.60" text-anchor="end">4</text>
<line x1="177.00" y1="2103.88" x2="184.90" y2="2103.88" stroke="#000" stroke-width="1.75"/>
<text transform="translate(169.60,2111.78) scale(0.9850,1.0000)" font-size="21.60" text-anchor="end">2</text>
<line x1="177.00" y1="2147.60" x2="184.90" y2="2147.60" stroke="#000" stroke-width="1.75"/>
<text transform="translate(169.60,2155.50) scale(0.9850,1.0000)" font-size="21.60" text-anchor="end">0</text>
<line x1="177.00" y1="2191.39" x2="184.90" y2="2191.39" stroke="#000" stroke-width="1.75"/>
<text transform="translate(169.60,2199.29) scale(0.9850,1.0000)" font-size="21.60" text-anchor="end">2</text>
<line x1="177.00" y1="2235.18" x2="184.90" y2="2235.18" stroke="#000" stroke-width="1.75"/>
<text transform="translate(169.60,2243.08) scale(0.9850,1.0000)" font-size="21.60" text-anchor="end">4</text>
<line x1="177.00" y1="2278.97" x2="184.90" y2="2278.97" stroke="#000" stroke-width="1.75"/>
<text transform="translate(169.60,2286.87) scale(0.9850,1.0000)" font-size="21.60" text-anchor="end">6</text>
<line x1="177.00" y1="2322.76" x2="184.90" y2="2322.76" stroke="#000" stroke-width="1.75"/>
<text transform="translate(169.60,2330.66) scale(0.9850,1.0000)" font-size="21.60" text-anchor="end">8</text>
<line x1="177.00" y1="2366.55" x2="184.90" y2="2366.55" stroke="#000" stroke-width="1.75"/>
<text transform="translate(169.60,2374.45) scale(0.9850,1.0000)" font-size="21.60" text-anchor="end">10</text>
<line x1="246.94" y1="2366.55" x2="246.94" y2="2374.45" stroke="#000" stroke-width="1.75"/>
<text transform="translate(246.94,2398.70) scale(0.9850,1.0000)" font-size="21.60" text-anchor="middle">Western</text>
<line x1="371.01" y1="2366.55" x2="371.01" y2="2374.45" stroke="#000" stroke-width="1.75"/>
<text transform="translate(371.01,2398.70) scale(0.9850,1.0000)" font-size="21.60" text-anchor="middle">Gulf</text>
<line x1="495.08" y1="2366.55" x2="495.08" y2="2374.45" stroke="#000" stroke-width="1.75"/>
<text transform="translate(495.08,2398.70) scale(0.9850,1.0000)" font-size="21.60" text-anchor="middle">Central</text>
<line x1="619.16" y1="2366.55" x2="619.16" y2="2374.45" stroke="#000" stroke-width="1.75"/>
<text transform="translate(619.16,2398.70) scale(0.9850,1.0000)" font-size="21.60" text-anchor="middle">National</text>
<text transform="translate(619.16,2423.80) scale(0.9850,1.0000)" font-size="21.60" text-anchor="middle">Capital</text>
<text transform="translate(619.16,2448.90) scale(0.9850,1.0000)" font-size="21.60" text-anchor="middle">District</text>
<line x1="743.23" y1="2366.55" x2="743.23" y2="2374.45" stroke="#000" stroke-width="1.75"/>
<text transform="translate(743.23,2398.70) scale(0.9850,1.0000)" font-size="21.60" text-anchor="middle">Milne</text>
<text transform="translate(743.23,2423.80) scale(0.9850,1.0000)" font-size="21.60" text-anchor="middle">Bay</text>
<line x1="867.30" y1="2366.55" x2="867.30" y2="2374.45" stroke="#000" stroke-width="1.75"/>
<text transform="translate(867.30,2398.70) scale(0.9850,1.0000)" font-size="21.60" text-anchor="middle">Oro</text>
<line x1="991.38" y1="2366.55" x2="991.38" y2="2374.45" stroke="#000" stroke-width="1.75"/>
<text transform="translate(991.38,2398.70) scale(0.9850,1.0000)" font-size="21.60" text-anchor="middle">Morobe</text>
<line x1="1115.45" y1="2366.55" x2="1115.45" y2="2374.45" stroke="#000" stroke-width="1.75"/>
<text transform="translate(1115.45,2398.70) scale(0.9850,1.0000)" font-size="21.60" text-anchor="middle">Madang</text>
<line x1="1239.52" y1="2366.55" x2="1239.52" y2="2374.45" stroke="#000" stroke-width="1.75"/>
<text transform="translate(1239.52,2398.70) scale(0.9850,1.0000)" font-size="21.60" text-anchor="middle">East</text>
<text transform="translate(1239.52,2423.80) scale(0.9850,1.0000)" font-size="21.60" text-anchor="middle">Sepik</text>
<line x1="1363.60" y1="2366.55" x2="1363.60" y2="2374.45" stroke="#000" stroke-width="1.75"/>
<text transform="translate(1363.60,2398.70) scale(0.9850,1.0000)" font-size="21.60" text-anchor="middle">West</text>
<text transform="translate(1363.60,2423.80) scale(0.9850,1.0000)" font-size="21.60" text-anchor="middle">Sepik</text>
<line x1="1487.67" y1="2366.55" x2="1487.67" y2="2374.45" stroke="#000" stroke-width="1.75"/>
<text transform="translate(1487.67,2398.70) scale(0.9850,1.0000)" font-size="21.60" text-anchor="middle">Manus</text>
<line x1="1611.74" y1="2366.55" x2="1611.74" y2="2374.45" stroke="#000" stroke-width="1.75"/>
<text transform="translate(1611.74,2398.70) scale(0.9850,1.0000)" font-size="21.60" text-anchor="middle">West</text>
<text transform="translate(1611.74,2423.80) scale(0.9850,1.0000)" font-size="21.60" text-anchor="middle">New</text>
<text transform="translate(1611.74,2448.90) scale(0.9850,1.0000)" font-size="21.60" text-anchor="middle">Britain</text>
<line x1="1735.82" y1="2366.55" x2="1735.82" y2="2374.45" stroke="#000" stroke-width="1.75"/>
<text transform="translate(1735.82,2398.70) scale(0.9850,1.0000)" font-size="21.60" text-anchor="middle">East</text>
<text transform="translate(1735.82,2423.80) scale(0.9850,1.0000)" font-size="21.60" text-anchor="middle">New</text>
<text transform="translate(1735.82,2448.90) scale(0.9850,1.0000)" font-size="21.60" text-anchor="middle">Britain</text>
<line x1="1859.89" y1="2366.55" x2="1859.89" y2="2374.45" stroke="#000" stroke-width="1.75"/>
<text transform="translate(1859.89,2398.70) scale(0.9850,1.0000)" font-size="21.60" text-anchor="middle">New</text>
<text transform="translate(1859.89,2423.80) scale(0.9850,1.0000)" font-size="21.60" text-anchor="middle">Ireland</text>
<line x1="1983.96" y1="2366.55" x2="1983.96" y2="2374.45" stroke="#000" stroke-width="1.75"/>
<text transform="translate(1983.96,2398.70) scale(0.9850,1.0000)" font-size="21.60" text-anchor="middle">Bougainville</text>
<text transform="translate(127.10,2147.78) scale(1.0000,0.9900) rotate(-90)" font-size="30.20" text-anchor="middle">Biomass (Tg)</text>
<text transform="translate(11.00,1967.25) scale(1,1.02)" font-size="65.0" class="pl">D</text>
<text transform="translate(59.50,1966.65) scale(0.96,0.95)" font-size="65.0" class="pl">)</text>
<text transform="translate(2091.30,1978.00) scale(0.9900,1.0000)" font-size="30.20" text-anchor="start">Saltmarsh</text>
<rect x="2092.60" y="2002.00" width="60.00" height="20.60" fill="#bf8f00"/>
<text transform="translate(2177.00,2022.60) scale(0.9880,1.0000)" font-size="30.20" text-anchor="start">AGB</text>
<rect x="2092.60" y="2046.80" width="60.00" height="20.20" fill="#d9bc66"/>
<rect x="2093.10" y="2047.30" width="59.00" height="19.20" fill="none" stroke="#bf8f00" stroke-opacity="0.3" stroke-width="1"/>
<text transform="translate(2177.00,2067.00) scale(0.9880,1.0000)" font-size="30.20" text-anchor="start">BGB</text>
<text transform="translate(263.73,40.90) scale(0.9950,0.9450)" font-size="30.20" text-anchor="start">Southern</text>
<text transform="translate(996.05,40.90) scale(0.9950,0.9450)" font-size="30.20" text-anchor="start">Momase</text>
<text transform="translate(1484.26,40.90) scale(0.9950,0.9450)" font-size="30.20" text-anchor="start">Islands</text>
<text transform="translate(1115.45,2484.60)" font-size="30.20" text-anchor="middle">Province</text>
</svg>
</body></html>
